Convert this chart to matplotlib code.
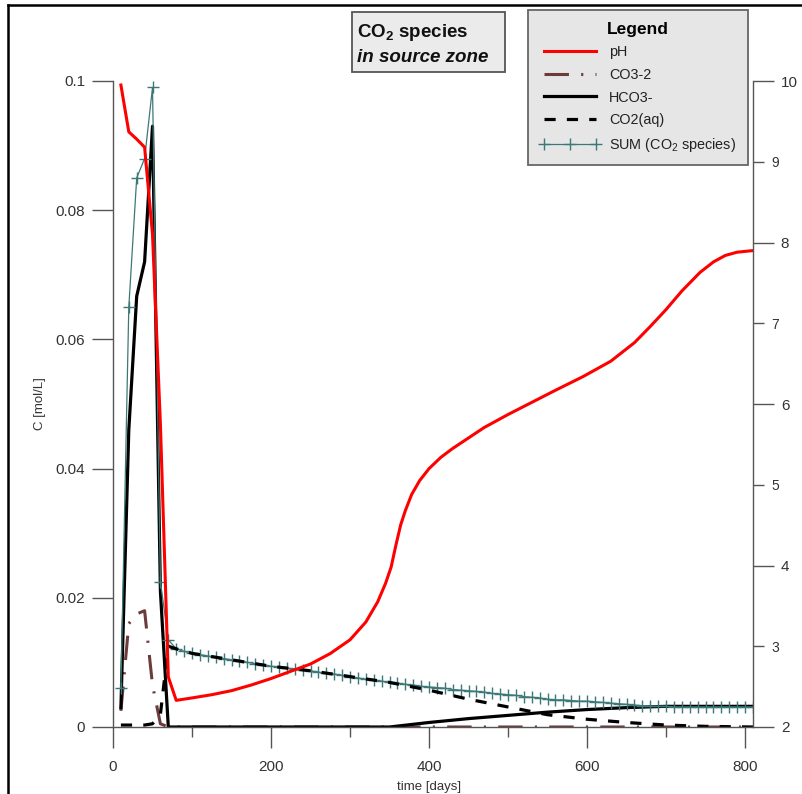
import numpy as np
import matplotlib
matplotlib.use("Agg")
import matplotlib.pyplot as plt
from matplotlib.lines import Line2D
from matplotlib.patches import Rectangle
from matplotlib.ticker import MultipleLocator, FixedLocator, FormatStrFormatter

plt.rcParams['font.family'] = ['Liberation Sans', 'DejaVu Sans']
plt.rcParams['mathtext.fontset'] = 'custom'
plt.rcParams['mathtext.rm'] = 'Liberation Sans'
plt.rcParams['mathtext.it'] = 'Liberation Sans:italic'
plt.rcParams['mathtext.bf'] = 'Liberation Sans:bold'

# pH (right axis)
ph_days = [10, 20, 30, 40, 50, 60, 70, 80, 100, 125, 150, 175, 200, 225, 250,
           275, 300, 320, 335, 345, 352, 358, 364, 370, 378, 388, 400, 415,
           430, 450, 470, 500, 530, 560, 595, 630, 660, 680, 700, 720, 743,
           760, 775, 790, 810]
ph = [9.95, 9.37, 9.28, 9.18, 8.10, 5.75, 2.62, 2.33, 2.36, 2.40, 2.45, 2.52,
      2.60, 2.69, 2.78, 2.91, 3.08, 3.30, 3.55, 3.78, 3.98, 4.25, 4.50, 4.68,
      4.88, 5.05, 5.20, 5.34, 5.45, 5.58, 5.71, 5.87, 6.02, 6.17, 6.34, 6.53,
      6.76, 6.96, 7.17, 7.40, 7.63, 7.76, 7.84, 7.88, 7.90]

# CO3-2
co3_days = [10, 20, 30, 40, 50, 60, 70, 810]
co3 = [0.0025, 0.016, 0.0175, 0.018, 0.0065, 0.0005, 0.0, 0.0]

# HCO3-
hco3_days = [10, 20, 30, 40, 50, 60, 70, 350, 400, 450, 500, 550, 600, 650,
             700, 750, 810]
hco3 = [0.003, 0.046, 0.0667, 0.072, 0.093, 0.021, 0.0, 0.0, 0.0007, 0.0013,
        0.0018, 0.0023, 0.0027, 0.0030, 0.0032, 0.0032, 0.0032]

# CO2(aq)
co2_days = [10, 20, 30, 40, 50, 60, 70, 80, 100, 150, 200, 250, 300, 350, 400,
            450, 500, 550, 600, 650, 700, 750, 810]
co2 = [0.0003, 0.0003, 0.0003, 0.0003, 0.0005, 0.002, 0.0125, 0.0121, 0.0114,
       0.0104, 0.0094, 0.0087, 0.0078, 0.0069, 0.0057, 0.0043, 0.0031, 0.0019,
       0.0012, 0.0007, 0.0003, 0.0001, 0.0]

# SUM (CO2 species), output every 10 days
sum_days = np.arange(10, 811, 10)
sum_c = [0.006, 0.065, 0.085, 0.088, 0.099, 0.0225, 0.0135, 0.0121, 0.0117,
         0.0114, 0.0112, 0.0110, 0.0108, 0.0106, 0.0104, 0.0102, 0.0100,
         0.0098, 0.0096, 0.0094, 0.0093, 0.0091, 0.0090, 0.0088, 0.0087,
         0.0085, 0.0083, 0.0082, 0.0080, 0.0078, 0.0076, 0.0074, 0.0072,
         0.0071, 0.0069, 0.0068, 0.0066, 0.0065, 0.0063, 0.0062, 0.0061,
         0.0060, 0.0058, 0.0057, 0.0056, 0.0055, 0.0054, 0.0052, 0.0051,
         0.0050, 0.0049, 0.0047, 0.0046, 0.0045, 0.0043, 0.0042, 0.0042,
         0.0041, 0.0040, 0.0040, 0.0039, 0.0038, 0.0037, 0.0036, 0.0035,
         0.0034, 0.0033, 0.0032, 0.0032, 0.0032, 0.0031, 0.0031, 0.0031,
         0.0031, 0.0031, 0.0031, 0.0031, 0.0031, 0.0031, 0.0031, 0.0031]

W, H = 802, 794
fig = plt.figure(figsize=(W / 100, H / 100), dpi=100)
ax = fig.add_axes([113 / W, 1 - 727 / H, (753 - 113) / W, (727 - 81) / H])
ax2 = ax.twinx()

axis_col = '#555555'
lab_col = '#333333'

ax.plot(co3_days, co3, color='#6e3b3b', lw=2.2, dashes=(8, 4, 0.7, 4),
        dash_capstyle='butt', label='CO3-2')
ax.plot(hco3_days, hco3, color='black', lw=2.3, label='HCO3-')
ax.plot(sum_days, sum_c, color='#3d7878', lw=0.9, marker='+', ms=8, mew=1.0,
        label='SUM (CO$_2$ species)')
ax.plot(co2_days, co2, color='black', lw=2.3, dashes=(3.5, 3.5),
        label='CO2(aq)')
ax2.plot(ph_days, ph, color='#ff0000', lw=2.2, label='pH')

ax.set_xlim(0, 810)
ax.set_ylim(0, 0.1)
ax2.set_ylim(2, 10)

for a in (ax, ax2):
    a.spines['top'].set_visible(False)
    for s in a.spines.values():
        s.set_color(axis_col)
        s.set_linewidth(1.0)
ax.spines['right'].set_visible(False)
ax2.spines['left'].set_visible(False)
ax2.spines['bottom'].set_visible(False)

ax.yaxis.set_major_locator(MultipleLocator(0.02))
ax.yaxis.set_major_formatter(matplotlib.ticker.FuncFormatter(
    lambda v, p: '0' if abs(v) < 1e-9 else ('%g' % round(v, 3))))
ax.xaxis.set_major_locator(MultipleLocator(200))
ax.xaxis.set_minor_locator(MultipleLocator(100))
ax.tick_params(axis='both', which='major', direction='out', length=15,
               width=1.0, color=axis_col, labelcolor=lab_col, labelsize=11,
               pad=5)
ax.tick_params(axis='x', which='minor', direction='out', length=7.5,
               width=1.0, color=axis_col)
ax.tick_params(axis='x', pad=9)

ax2.yaxis.set_major_locator(FixedLocator([2, 4, 6, 8, 10]))
ax2.yaxis.set_minor_locator(FixedLocator([3, 5, 7, 9]))
ax2.yaxis.set_minor_formatter(FormatStrFormatter('%d'))
ax2.tick_params(axis='y', which='major', direction='out', length=15,
                width=1.0, color=axis_col, labelcolor=lab_col, labelsize=11,
                pad=5)
ax2.tick_params(axis='y', which='minor', direction='out', length=8,
                width=1.0, color=axis_col, labelcolor=lab_col, labelsize=10,
                pad=5)

ax.set_ylabel('C [mol/L]', fontsize=9.5, color=lab_col)
ax.yaxis.set_label_coords(-0.105, 0.5)
ax.set_xlabel('time [days]', fontsize=9.5, color=lab_col)
ax.xaxis.set_label_coords(0.494, -0.083)

# legend
h1, l1 = ax.get_legend_handles_labels()
h2, l2 = ax2.get_legend_handles_labels()
hd = dict(zip(l1 + l2, h1 + h2))
order = ['pH', 'CO3-2', 'HCO3-', 'CO2(aq)', 'SUM (CO$_2$ species)']
leg = fig.legend([hd[k] for k in order], order, loc='upper left',
                 bbox_to_anchor=(528 / W, 1 - 10 / H), borderaxespad=0,
                 fontsize=10.4, title='Legend',
                 title_fontproperties={'weight': 'bold', 'size': 12.5},
                 handlelength=4.2, handletextpad=0.6, labelspacing=0.6,
                 numpoints=3, fancybox=False, framealpha=1,
                 facecolor='#e6e6e6', edgecolor='#666666', borderpad=0.8)
leg.get_frame().set_linewidth(1.3)
for t in leg.get_texts():
    t.set_color('#222222')

# title box
fig.add_artist(Rectangle((352 / W, 1 - 72 / H), 153 / W, 60 / H,
                         transform=fig.transFigure, facecolor='#ebebeb',
                         edgecolor='#555555', lw=1.3))
fig.text(357 / W, 1 - 37 / H, r'CO$_\mathbf{2}$ species', fontsize=13.5,
         fontweight='bold', va='baseline', ha='left', color='#111111')
fig.text(357 / W, 1 - 62 / H, 'in source zone', fontsize=13.5,
         fontweight='bold', fontstyle='italic', va='baseline', ha='left',
         color='#111111')

# figure frame
fig.add_artist(Line2D([8 / W, 8 / W], [0, 1 - 5 / H], color='black', lw=1.8,
                      transform=fig.transFigure))
fig.add_artist(Line2D([8 / W, 1], [1 - 5 / H, 1 - 5 / H], color='black',
                      lw=1.8, transform=fig.transFigure))

fig.savefig('out.png', dpi=100)
